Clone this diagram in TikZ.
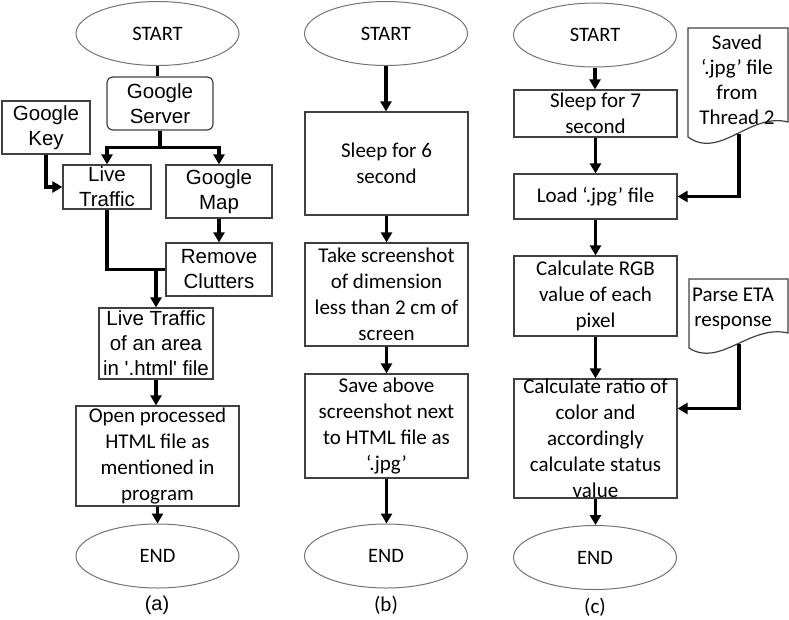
\documentclass[tikz,border=0pt]{standalone}
\usepackage{fontspec}
\setmainfont{Carlito}
\newfontfamily\arialfont{Liberation Sans}
\usetikzlibrary{arrows.meta,shapes.geometric}

\begin{document}
\begin{tikzpicture}[x=1pt, y=-1pt,
    box/.style={draw=black!75, line width=1.2pt, align=center, inner sep=0pt,
        font=\fontsize{21}{26}\selectfont},
    abox/.style={box, font=\arialfont\fontsize{20.5}{25}\selectfont},
    term/.style={ellipse, draw=black!55, line width=1pt, inner sep=0pt,
        minimum width=163pt, minimum height=64pt, font=\fontsize{20.5}{24}\selectfont},
    doc/.style={draw=black!75, line width=1.2pt},
    flow/.style={line width=3.2pt, -{Triangle[width=11pt,length=10pt]}},
    link/.style={line width=3.2pt}]
    \useasboundingbox (0,0) rectangle (789,619);

    % (a)
    \node[term] (startA) at (157.5,33.5) {START};
    \node[abox, rounded corners=6pt, minimum width=106pt, minimum height=53pt] (serverA) at (160,103.5) {Google\\Server};
    \node[abox, minimum width=88pt, minimum height=53pt] (keyA) at (46,127.5) {Google\\Key};
    \node[abox, minimum width=88pt, minimum height=44pt] (liveA) at (107,187) {Live\\Traffic};
    \node[abox, minimum width=106pt, minimum height=53pt] (mapA) at (219,191.5) {Google\\Map};
    \node[abox, minimum width=106pt, minimum height=53pt] (clutA) at (219,269.5) {Remove\\Clutters};
    \node[abox, minimum width=114pt, minimum height=71pt] (areaA) at (156,343.5) {Live Traffic\\of an area\\in \textquotesingle.html\textquotesingle{} file};
    \node[box, minimum width=163pt, minimum height=100pt] (openA) at (157.5,456) {Open processed\\HTML file as\\mentioned in\\program};
    \node[term] (endA) at (157.5,556) {END};
    \node[font=\arialfont\fontsize{20}{24}\selectfont] (labA) at (157,605) {(a)};

    \draw[link] (startA.south) -- (startA.south |- serverA.north);
    \draw[link] (serverA.south) -- ++(0,17) coordinate (splitA);
    \draw[flow] (splitA) -| (liveA.north);
    \draw[flow] (splitA) -| (mapA.north);
    \draw[flow] (keyA.south) |- (liveA.west);
    \draw[flow] (mapA.south) -- (clutA.north);
    \draw[link] (liveA.south) |- (clutA.west);
    \draw[flow] (areaA.north |- clutA.west) -- (areaA.north);
    \draw[flow] (areaA.south) -- (areaA.south |- openA.north);
    \draw[flow] (openA.south) -- (endA.north);

    % (b)
    \node[term] (startB) at (386,33.5) {START};
    \node[box, minimum width=163pt, minimum height=103pt] (sleepB) at (386.5,163.5) {Sleep for 6\\second};
    \node[box, minimum width=163pt, minimum height=103pt] (shotB) at (386.5,294.5) {Take screenshot\\of dimension\\less than 2 cm of\\screen};
    \node[box, minimum width=163pt, minimum height=104pt] (saveB) at (386.5,426) {Save above\\screenshot next\\to HTML file as\\`.jpg'};
    \node[term] (endB) at (386,556) {END};
    \node[font=\fontsize{21}{24}\selectfont] (labB) at (386,605) {(b)};

    \draw[flow] (startB.south) -- (startB.south |- sleepB.north);
    \draw[flow] (sleepB.south) -- (shotB.north);
    \draw[flow] (shotB.south) -- (saveB.north);
    \draw[flow] (saveB.south) -- (saveB.south |- endB.north);

    % (c)
    \node[term] (startC) at (595,35) {START};
    \node[box, minimum width=163pt, minimum height=47pt] (sleepC) at (595.5,113.5) {Sleep for 7\\second};
    \node[box, minimum width=163pt, minimum height=45pt] (loadC) at (595.5,196.5) {Load `.jpg' file};
    \node[box, minimum width=163pt, minimum height=80pt] (rgbC) at (595.5,296) {Calculate RGB\\value of each\\pixel};
    \node[box, minimum width=163pt, minimum height=119pt] (ratioC) at (595.5,438.5) {Calculate ratio of\\color and\\accordingly\\calculate status\\value};
    \node[term] (endC) at (595,557.5) {END};
    \node[font=\fontsize{21}{24}\selectfont] (labC) at (595,607) {(c)};

    \draw[doc] (688,28) -- (788,28) -- (788,122) .. controls (750,112) and (720,160) .. (688,137) -- cycle;
    \node[align=center, inner sep=0pt, font=\fontsize{21}{25}\selectfont] (savedC) at (737,80) {Saved\\`.jpg' file\\from\\Thread 2};
    \coordinate (savedOut) at (739,134);
    \draw[doc] (689,279) -- (788,279) -- (788,333) .. controls (750,324) and (720,368) .. (689,348) -- cycle;
    \node[align=center, inner sep=0pt, font=\fontsize{21}{25}\selectfont] (parseC) at (733,309) {Parse ETA\\response};
    \coordinate (parseOut) at (739,344);

    \draw[flow] (startC.south) -- (startC.south |- sleepC.north);
    \draw[flow] (sleepC.south) -- (loadC.north);
    \draw[flow] (savedOut) |- (loadC.east);
    \draw[flow] (loadC.south) -- (rgbC.north);
    \draw[flow] (rgbC.south) -- (ratioC.north);
    \draw[flow] (parseOut) |- ([yshift=30pt]ratioC.east);
    \draw[flow] (ratioC.south) -- (ratioC.south |- endC.north);
\end{tikzpicture}
\end{document}
